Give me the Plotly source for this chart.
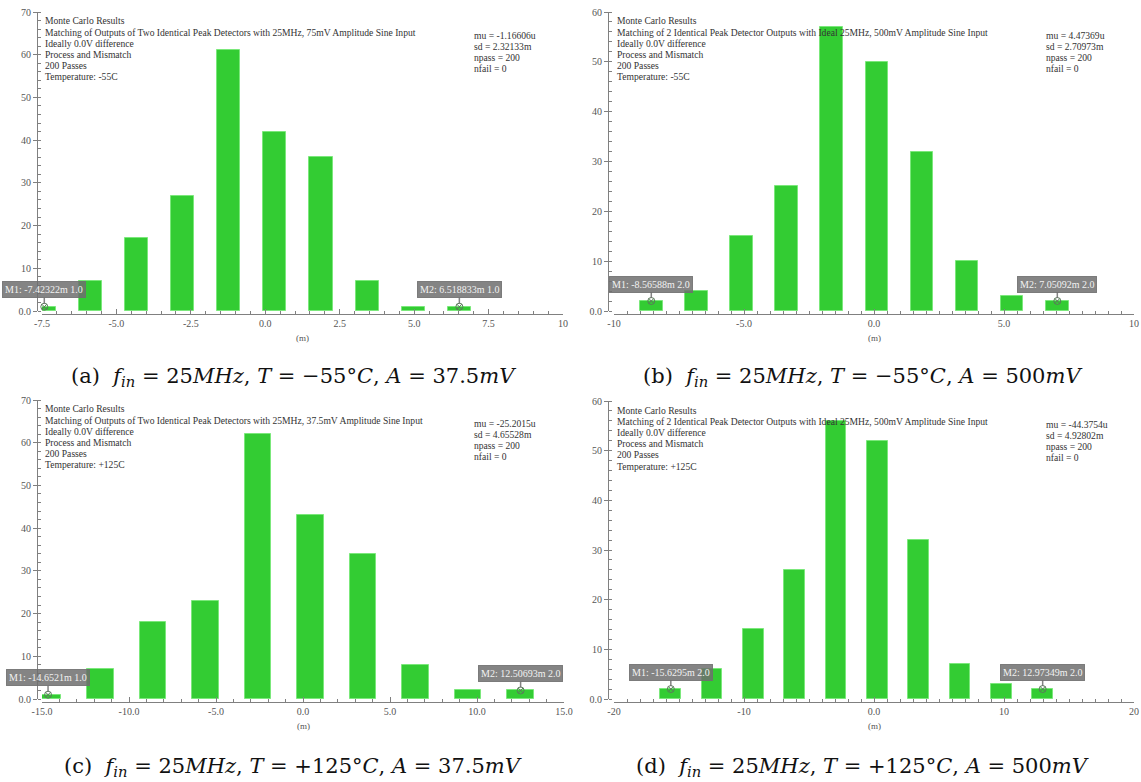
import plotly.graph_objects as go

# ---- data -------------------------------------------------------------
# histogram bin centres (m) and counts for each Monte Carlo run
centers_a = [-7.42322, -5.874, -4.325, -2.776, -1.227, 0.322, 1.871, 3.420, 4.970, 6.518833]
counts_a = [1, 7, 17, 27, 61, 42, 36, 7, 1, 1]

centers_b = [-8.56588, -6.831, -5.096, -3.361, -1.626, 0.109, 1.845, 3.580, 5.316, 7.05092]
counts_b = [2, 4, 15, 25, 57, 50, 32, 10, 3, 2]

centers_c = [-14.6521, -11.634, -8.617, -5.599, -2.581, 0.436, 3.454, 6.472, 9.489, 12.50693]
counts_c = [1, 7, 18, 23, 62, 43, 34, 8, 2, 2]

centers_d = [-15.6295, -12.451, -9.273, -6.095, -2.917, 0.261, 3.439, 6.617, 9.795, 12.97349]
counts_d = [2, 6, 14, 26, 56, 52, 32, 7, 3, 2]

marker_labels_a = ["M1: -7.42322m 1.0", "M2: 6.518833m 1.0"]
marker_labels_b = ["M1: -8.56588m 2.0", "M2: 7.05092m 2.0"]
marker_labels_c = ["M1: -14.6521m 1.0", "M2: 12.50693m 2.0"]
marker_labels_d = ["M1: -15.6295m 2.0", "M2: 12.97349m 2.0"]

title_lines_a = ["Monte Carlo Results",
                 "Matching of Outputs of Two Identical Peak Detectors with 25MHz, 75mV Amplitude Sine Input",
                 "Ideally 0.0V difference", "Process and Mismatch", "200 Passes", "Temperature: -55C"]
title_lines_b = ["Monte Carlo Results",
                 "Matching of 2 Identical Peak Detector Outputs with Ideal 25MHz, 500mV Amplitude Sine Input",
                 "Ideally 0.0V difference", "Process and Mismatch", "200 Passes", "Temperature: -55C"]
title_lines_c = ["Monte Carlo Results",
                 "Matching of Outputs of Two Identical Peak Detectors with 25MHz, 37.5mV Amplitude Sine Input",
                 "Ideally 0.0V difference", "Process and Mismatch", "200 Passes", "Temperature: +125C"]
title_lines_d = ["Monte Carlo Results",
                 "Matching of 2 Identical Peak Detector Outputs with Ideal 25MHz, 500mV Amplitude Sine Input",
                 "Ideally 0.0V difference", "Process and Mismatch", "200 Passes", "Temperature: +125C"]

stats_a = ["mu = -1.16606u", "sd = 2.32133m", "npass = 200", "nfail = 0"]
stats_b = ["mu = 4.47369u", "sd = 2.70973m", "npass = 200", "nfail = 0"]
stats_c = ["mu = -25.2015u", "sd = 4.65528m", "npass = 200", "nfail = 0"]
stats_d = ["mu = -44.3754u", "sd = 4.92802m", "npass = 200", "nfail = 0"]

xticks_a = [-7.5, -5.0, -2.5, 0.0, 2.5, 5.0, 7.5, 10]
xticktext_a = ["-7.5", "-5.0", "-2.5", "0.0", "2.5", "5.0", "7.5", "10"]
xticks_b = [-10, -5.0, 0.0, 5.0, 10]
xticktext_b = ["-10", "-5.0", "0.0", "5.0", "10"]
xticks_c = [-15, -10, -5, 0, 5, 10, 15]
xticktext_c = ["-15.0", "-10.0", "-5.0", "0.0", "5.0", "10.0", "15.0"]
xticks_d = [-20, -10, 0, 10, 20]
xticktext_d = ["-20", "-10", "0.0", "10", "20"]

captions = [
    "(a)  <i>f</i><sub><i>in</i></sub> = 25<i>MHz</i>, <i>T</i> = −55°<i>C</i>, <i>A</i> = 37.5<i>mV</i>",
    "(b)  <i>f</i><sub><i>in</i></sub> = 25<i>MHz</i>, <i>T</i> = −55°<i>C</i>, <i>A</i> = 500<i>mV</i>",
    "(c)  <i>f</i><sub><i>in</i></sub> = 25<i>MHz</i>, <i>T</i> = +125°<i>C</i>, <i>A</i> = 37.5<i>mV</i>",
    "(d)  <i>f</i><sub><i>in</i></sub> = 25<i>MHz</i>, <i>T</i> = +125°<i>C</i>, <i>A</i> = 500<i>mV</i>",
]

# ---- layout geometry (pixels) -----------------------------------------
W, H = 1141, 782
BAR_FILL = "#33cc33"
BAR_EDGE = "#7be87b"
AXIS_COL = "#808080"
TXT_FONT = "Liberation Serif"
CAP_FONT = "DejaVu Serif"


def px_x(p):
    return p / W


def px_y(p):
    return 1 - p / H


panels = [
    dict(centers=centers_a, counts=counts_a, marks=marker_labels_a, lines=title_lines_a, stats=stats_a,
         xr=[-7.5, 10], yr=[0, 70], xt=xticks_a, xtt=xticktext_a, xminor=0.5,
         x0=42, x1=563, ytop=12, ybot=311, yaxis_px=37, cap=captions[0], capx=293, capy=377),
    dict(centers=centers_b, counts=counts_b, marks=marker_labels_b, lines=title_lines_b, stats=stats_b,
         xr=[-10, 10], yr=[0, 60], xt=xticks_b, xtt=xticktext_b, xminor=0.5,
         x0=614, x1=1134, ytop=12, ybot=311, yaxis_px=608, cap=captions[1], capx=862, capy=377),
    dict(centers=centers_c, counts=counts_c, marks=marker_labels_c, lines=title_lines_c, stats=stats_c,
         xr=[-15, 15], yr=[0, 70], xt=xticks_c, xtt=xticktext_c, xminor=1,
         x0=42, x1=564, ytop=400, ybot=699, yaxis_px=37, cap=captions[2], capx=293, capy=767),
    dict(centers=centers_d, counts=counts_d, marks=marker_labels_d, lines=title_lines_d, stats=stats_d,
         xr=[-20, 20], yr=[0, 60], xt=xticks_d, xtt=xticktext_d, xminor=1,
         x0=614, x1=1134, ytop=401, ybot=699, yaxis_px=608, cap=captions[3], capx=862, capy=767),
]

fig = go.Figure()
annotations = []
layout_axes = {}

for i, p in enumerate(panels, start=1):
    xa = "x" if i == 1 else f"x{i}"
    ya = "y" if i == 1 else f"y{i}"
    xkey = "xaxis" if i == 1 else f"xaxis{i}"
    ykey = "yaxis" if i == 1 else f"yaxis{i}"

    step = (p["centers"][-1] - p["centers"][0]) / (len(p["centers"]) - 1)

    fig.add_trace(go.Bar(
        x=p["centers"], y=p["counts"], width=step * 0.5,
        marker=dict(color=BAR_FILL, line=dict(color=BAR_EDGE, width=1)),
        xaxis=xa, yaxis=ya, showlegend=False, hoverinfo="x+y",
    ))

    # M1 / M2 markers on the first and last bins
    mx = [p["centers"][0], p["centers"][-1]]
    my = [p["counts"][0], p["counts"][-1]]
    fig.add_trace(go.Scatter(
        x=mx, y=my, mode="markers", cliponaxis=False,
        marker=dict(symbol="circle-x-open", size=7, color="#5a7a5a", line=dict(width=1)),
        xaxis=xa, yaxis=ya, showlegend=False,
    ))
    for xv, yv, lab in zip(mx, my, p["marks"]):
        annotations.append(dict(
            x=xv, y=yv, xref=xa, yref=ya, text=lab, showarrow=True,
            arrowhead=0, arrowwidth=1.5, arrowcolor="rgba(110,110,110,0.85)",
            ax=0, ay=-17, standoff=3,
            bgcolor="rgba(110,110,110,0.85)", bordercolor="rgba(110,110,110,0.85)",
            borderpad=2, borderwidth=1,
            font=dict(family=TXT_FONT, size=10, color="#f2f2f2"),
        ))

    xdom = [px_x(p["x0"]), px_x(p["x1"])]
    ydom = [px_y(p["ybot"]), px_y(p["ytop"])]
    yvals = list(range(0, p["yr"][1] + 1, 10))

    layout_axes[xkey] = dict(
        domain=xdom, range=p["xr"], anchor="free", position=px_y(p["ybot"] + 3),
        automargin=False,
        showline=True, linecolor=AXIS_COL, linewidth=1, showgrid=False, zeroline=False,
        tickmode="array", tickvals=p["xt"], ticktext=p["xtt"],
        ticks="inside", ticklen=5, tickcolor=AXIS_COL,
        minor=dict(dtick=p["xminor"], tick0=0, ticks="inside", ticklen=3, tickcolor=AXIS_COL, showgrid=False),
        tickfont=dict(family=TXT_FONT, size=10, color="#555555"),
        fixedrange=True,
    )
    layout_axes[ykey] = dict(
        domain=ydom, range=p["yr"], anchor="free", position=px_x(p["yaxis_px"]),
        automargin=False,
        showline=True, linecolor=AXIS_COL, linewidth=1, showgrid=False, zeroline=False,
        tickmode="array", tickvals=yvals, ticktext=["0.0"] + [str(v) for v in yvals[1:]],
        ticks="outside", ticklen=4, tickcolor=AXIS_COL,
        minor=dict(dtick=2, tick0=0, ticks="inside", ticklen=3, tickcolor=AXIS_COL, showgrid=False),
        tickfont=dict(family=TXT_FONT, size=10, color="#555555"),
        fixedrange=True,
    )

    # x-axis unit label
    annotations.append(dict(
        x=px_x((p["x0"] + p["x1"]) / 2), y=px_y(p["ybot"] + 27), xref="paper", yref="paper",
        text="(m)", showarrow=False, xanchor="center", yanchor="middle",
        font=dict(family=TXT_FONT, size=9, color="#555555"),
    ))

    # header text block
    for k, line in enumerate(p["lines"]):
        annotations.append(dict(
            x=px_x(p["x0"] + 1), y=px_y(p["ytop"] + 9 + k * 11.2), xref="paper", yref="paper",
            text=line, showarrow=False, xanchor="left", yanchor="middle",
            font=dict(family=TXT_FONT, size=9.6, color="#333333"),
        ))
    # statistics block
    for k, line in enumerate(p["stats"]):
        annotations.append(dict(
            x=px_x(p["x0"] + 430), y=px_y(p["ytop"] + 23 + k * 11.2), xref="paper", yref="paper",
            text=line, showarrow=False, xanchor="left", yanchor="middle",
            font=dict(family=TXT_FONT, size=9.6, color="#333333"),
        ))

    # sub-figure caption
    annotations.append(dict(
        x=px_x(p["capx"]), y=px_y(p["capy"]), xref="paper", yref="paper",
        text=p["cap"], showarrow=False, xanchor="center", yanchor="middle",
        font=dict(family=CAP_FONT, size=21, color="#111111"),
    ))

fig.update_layout(
    width=W, height=H, margin=dict(l=0, r=0, t=0, b=0, autoexpand=False),
    paper_bgcolor="white", plot_bgcolor="white",
    bargap=0, annotations=annotations, **layout_axes,
)

fig.write_html("out.html")
